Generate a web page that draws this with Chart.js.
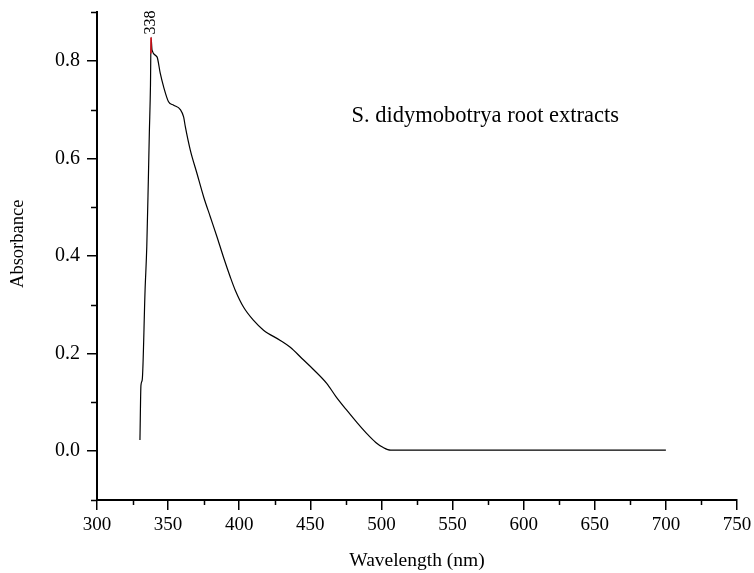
<!DOCTYPE html>
<html><head><meta charset="utf-8">
<script src="https://cdn.jsdelivr.net/npm/chart.js@4.4.0/dist/chart.umd.min.js"></script>
<style>html,body{margin:0;padding:0;background:#fff}#wrap{width:754px;height:573px}</style>
</head><body><div id="wrap"><canvas id="c" width="754" height="573"></canvas></div>
<script>
const wavelength = [330.2, 330.9, 331.8, 333.8, 335.0, 336.1, 336.8, 337.6, 338.0, 338.7, 342.2, 344.5, 346.8, 350.3, 353.9, 358.6, 360.9, 362.1, 365.6, 370.3, 375.0, 379.7, 384.4, 389.0, 393.7, 397.2, 403.1, 410.1, 417.1, 428.9, 435.9, 444.1, 452.0, 461.5, 468.0, 475.6, 483.0, 489.7, 496.0, 501.0, 506.5, 600.0, 700.0];
const absorbance = [0.023, 0.135, 0.146, 0.330, 0.419, 0.556, 0.652, 0.750, 0.848, 0.822, 0.808, 0.774, 0.747, 0.716, 0.709, 0.700, 0.685, 0.665, 0.617, 0.569, 0.521, 0.480, 0.439, 0.397, 0.357, 0.330, 0.295, 0.268, 0.248, 0.227, 0.213, 0.190, 0.168, 0.139, 0.112, 0.084, 0.058, 0.036, 0.018, 0.008, 0.002, 0.002, 0.002];
const xMajorTicks = [300, 350, 400, 450, 500, 550, 600, 650, 700, 750];
const xMinorTicks = [325, 375, 425, 475, 525, 575, 625, 675, 725];
const yMajorTicks = [0.0, 0.2, 0.4, 0.6, 0.8];
const yMinorTicks = [-0.1, 0.1, 0.3, 0.5, 0.7, 0.9];
const peakLabel = '338';
const peakX = 338;
const peakTop = 0.848;
const peakBase = 0.815;
const annotationText = 'S. didymobotrya root extracts';
const annotationX = 479;
const annotationY = 0.687;
const yTitle = 'Absorbance';
const xTitle = 'Wavelength (nm)';

const FONT = "'Liberation Serif', 'Times New Roman', serif";

const extras = {
  id: 'extras',
  afterDraw(chart) {
    const ctx = chart.ctx;
    const xs = chart.scales.x, ys = chart.scales.y;
    ctx.save();
    ctx.strokeStyle = '#000';
    ctx.lineWidth = 1.5;
    ctx.beginPath();
    xMinorTicks.forEach(v => {
      const px = Math.round(xs.getPixelForValue(v)) + 0.5;
      ctx.moveTo(px, xs.top);
      ctx.lineTo(px, xs.top + 5);
    });
    yMinorTicks.forEach(v => {
      const py = Math.round(ys.getPixelForValue(v)) + 0.5;
      ctx.moveTo(ys.right, py);
      ctx.lineTo(ys.right - 6, py);
    });
    ctx.stroke();
    // peak marker
    const px = xs.getPixelForValue(peakX);
    ctx.strokeStyle = '#e8141e';
    ctx.lineWidth = 1.5;
    ctx.beginPath();
    ctx.moveTo(px, ys.getPixelForValue(peakBase));
    ctx.lineTo(px, ys.getPixelForValue(peakTop));
    ctx.stroke();
    // peak label
    ctx.fillStyle = '#000';
    ctx.font = '16px ' + FONT;
    ctx.translate(px, ys.getPixelForValue(peakTop) - 3);
    ctx.rotate(-Math.PI / 2);
    ctx.textAlign = 'left';
    ctx.textBaseline = 'middle';
    ctx.fillText(peakLabel, 0, 0);
    ctx.restore();
    // y axis title
    ctx.save();
    ctx.fillStyle = '#000';
    ctx.font = '18.5px ' + FONT;
    ctx.translate(18, chart.chartArea.top + chart.chartArea.height * 0.475);
    ctx.rotate(-Math.PI / 2);
    ctx.textAlign = 'center';
    ctx.textBaseline = 'middle';
    ctx.fillText(yTitle, 0, 0);
    ctx.restore();
    // annotation
    ctx.save();
    ctx.fillStyle = '#000';
    ctx.font = '22.5px ' + FONT;
    ctx.textAlign = 'left';
    ctx.textBaseline = 'middle';
    ctx.fillText(annotationText, xs.getPixelForValue(annotationX), ys.getPixelForValue(annotationY));
    ctx.restore();
  }
};

new Chart(document.getElementById('c'), {
  type: 'line',
  data: {
    datasets: [{
      data: wavelength.map((w, i) => ({x: w, y: absorbance[i]})),
      borderColor: '#000',
      borderWidth: 1.2,
      pointRadius: 0,
      fill: false,
      cubicInterpolationMode: 'monotone'
    }]
  },
  options: {
    responsive: false,
    animation: false,
    devicePixelRatio: 1,
    layout: {padding: {top: 12, right: 17, left: 0, bottom: 0}},
    plugins: {legend: {display: false}, tooltip: {enabled: false}},
    scales: {
      x: {
        type: 'linear', min: 300, max: 750,
        afterBuildTicks: s => { s.ticks = xMajorTicks.map(v => ({value: v})); },
        afterFit: s => { s.height = 73; s.paddingLeft = 0; s.paddingRight = 0; },
        grid: {drawOnChartArea: false, drawTicks: true, tickLength: 10, color: '#000', lineWidth: 1.5},
        border: {display: true, color: '#000', width: 2},
        ticks: {color: '#000', font: {family: FONT, size: 19}, padding: 4, maxRotation: 0, callback: v => String(v)},
        title: {display: true, text: xTitle, color: '#000', font: {family: FONT, size: 19.5}, padding: {top: 0, bottom: 0}}
      },
      y: {
        type: 'linear', min: -0.1, max: 0.9,
        afterBuildTicks: s => { s.ticks = yMajorTicks.map(v => ({value: v})); },
        afterFit: s => { s.width = 97; s.paddingTop = 0; s.paddingBottom = 0; },
        grid: {drawOnChartArea: false, drawTicks: true, tickLength: 10, color: '#000', lineWidth: 1.5},
        border: {display: true, color: '#000', width: 2},
        ticks: {color: '#000', font: {family: FONT, size: 20}, padding: 7, callback: v => Number(v).toFixed(1)},
        title: {display: false}
      }
    }
  },
  plugins: [extras]
});
</script></body></html>
